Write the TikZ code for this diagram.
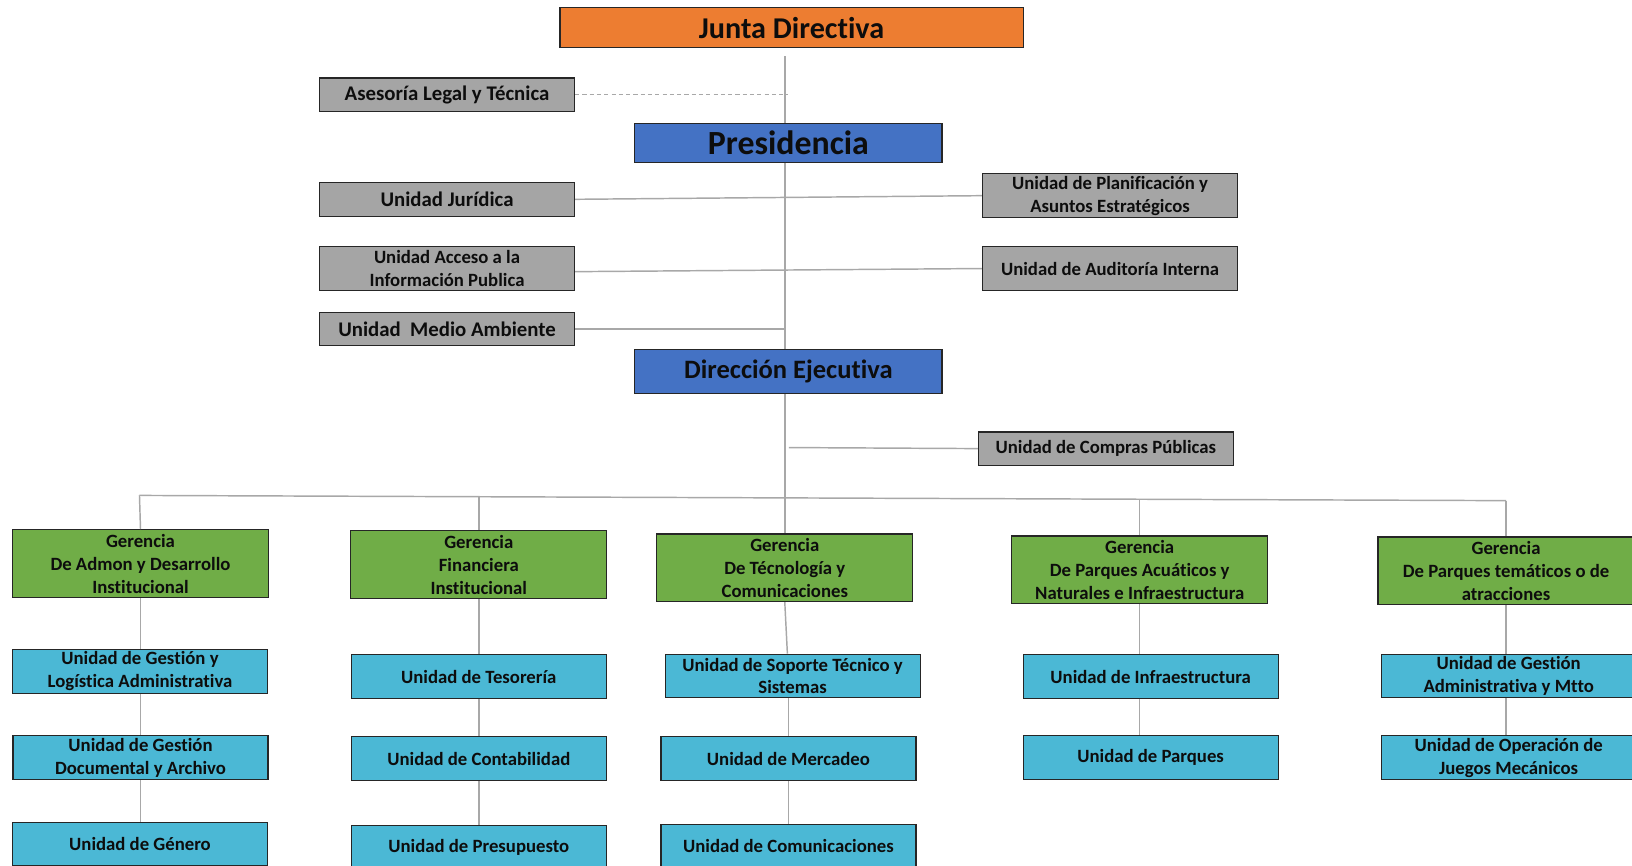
\documentclass[tikz,border=0pt]{standalone}
\usepackage{fontspec}
\setmainfont{Carlito}[Ligatures={NoCommon}]
\definecolor{cOrange}{HTML}{ED7D31}
\definecolor{cBlue}{HTML}{4472C4}
\definecolor{cGray}{HTML}{A5A5A5}
\definecolor{cGreen}{HTML}{70AD47}
\definecolor{cCyan}{HTML}{4BB8D5}
\definecolor{cLine}{HTML}{A8A8A8}
\begin{document}
\begin{tikzpicture}[x=1pt,y=-1pt,
  box/.style={draw=black!85, line width=1.1pt, inner sep=0pt, align=center,
    font=\bfseries\fontsize{18}{22}\selectfont, text=black!95},
  graybox/.style={box, fill=cGray, minimum width=245pt},
  bigtext/.style={font=\bfseries\fontsize{20}{24}\selectfont},
  greenbox/.style={box, fill=cGreen, minimum width=246pt, minimum height=65pt},
  cyanbox/.style={box, fill=cCyan, minimum width=245pt, minimum height=42pt},
  conn/.style={draw=cLine, line width=1.4pt},
  dconn/.style={draw=cLine, line width=1.2pt, dash pattern=on 4pt off 3pt}]
\clip (0,0) rectangle (1568,832);
\fill[white] (0,0) rectangle (1568,832);

% top level
\node[box, fill=cOrange, minimum width=445pt, minimum height=39pt,
  font=\bfseries\fontsize{29}{32}\selectfont] (junta) at (760.5,26.5) {Junta Directiva};
\node[graybox, bigtext, minimum height=32pt] (ase) at (429.5,91) {Asesoría Legal y Técnica};
\node[box, fill=cBlue, minimum width=295pt, minimum height=37pt,
  font=\bfseries\fontsize{32.5}{36}\selectfont] (pres) at (757.5,137.5) {Presidencia};
\node[graybox, bigtext, minimum height=33pt] (jur) at (429.5,191.5) {Unidad Jurídica};
\node[graybox, minimum height=42pt] (plan) at (1066.5,188) {Unidad de Planificación y\\Asuntos Estratégicos};
\node[graybox, minimum height=42pt] (acc) at (429.5,258) {Unidad Acceso a la\\Información Publica};
\node[graybox, minimum height=42pt] (aud) at (1066.5,258) {Unidad de Auditoría Interna};
\node[graybox, bigtext, minimum height=32pt] (med) at (429.5,316) {Unidad~ Medio Ambiente};
\node[box, fill=cBlue, minimum width=295pt, minimum height=42pt,
  font=\bfseries\fontsize{25.5}{29}\selectfont] (dir) at (757.5,357) {Dirección Ejecutiva};
\node[graybox, minimum height=32pt] (comp) at (1062.5,431) {Unidad de Compras Públicas};

% gerencias
\node[greenbox] (g1) at (135,541.5) {Gerencia\\De Admon y Desarrollo\\Institucional};
\node[greenbox] (g2) at (460,542.5) {Gerencia\\Financiera\\Institucional};
\node[greenbox] (g3) at (754,545.5) {Gerencia\\De Técnología y\\Comunicaciones};
\node[greenbox] (g4) at (1095,547.5) {Gerencia\\De Parques Acuáticos y\\Naturales e Infraestructura};
\node[greenbox] (g5) at (1447,548.5) {Gerencia\\De Parques temáticos o de\\atracciones};

% units
\node[cyanbox] (b11) at (134.5,645) {Unidad de Gestión y\\Logística Administrativa};
\node[cyanbox] (b12) at (135,728) {Unidad de Gestión\\Documental y Archivo};
\node[cyanbox] (b13) at (134.5,811) {Unidad de Género};
\node[cyanbox] (b21) at (460,650) {Unidad de Tesorería};
\node[cyanbox] (b22) at (460,729) {Unidad de Contabilidad};
\node[cyanbox] (b23) at (460,814) {Unidad de Presupuesto};
\node[cyanbox] (b31) at (761.5,649.5) {Unidad de Soporte Técnico y\\Sistemas};
\node[cyanbox] (b32) at (757.5,729) {Unidad de Mercadeo};
\node[cyanbox] (b33) at (757.5,813) {Unidad de Comunicaciones};
\node[cyanbox] (b41) at (1105.5,650) {Unidad de Infraestructura};
\node[cyanbox] (b42) at (1105.5,728) {Unidad de Parques};
\node[cyanbox] (b51) at (1449.5,649.5) {Unidad de Gestión\\Administrativa y Mtto};
\node[cyanbox] (b52) at (1449.5,728) {Unidad de Operación de\\Juegos Mecánicos};

% coordinates
\coordinate (j0) at (754,54);
\coordinate (aseend) at (757,91);
\coordinate (compstart) at (758,430);
\coordinate (busL) at (134,476);
\coordinate (busR) at (1447,481);
\coordinate (bus2) at (460,477.2);
\coordinate (bus4) at (1095,479.7);

% connectors
\draw[conn] (j0) -- (j0 |- pres.north);
\draw[dconn] (ase.east) -- (aseend);
\draw[conn] (j0 |- pres.south) -- (j0 |- dir.north);
\draw[conn] (jur.east) -- (plan.west);
\draw[conn] ([yshift=-3pt]acc.east) -- (aud.west);
\draw[conn] (med.east) -- (med.east -| j0);
\draw[conn] (compstart) -- (comp.west);
\draw[conn] (j0 |- dir.south) -- (g3.north);
\draw[conn] (busL) -- (busR);
\draw[conn] (busL) -- (g1.north);
\draw[conn] (bus2) -- (g2.north);
\draw[conn] (bus4) -- (g4.north);
\draw[conn] (busR) -- (g5.north);

\draw[conn] (g1.south) -- (g1.south |- b11.north);
\draw[conn] (g1.south |- b11.south) -- (g1.south |- b12.north);
\draw[conn] (g1.south |- b12.south) -- (g1.south |- b13.north);
\draw[conn] (g2.south) -- (b21.north);
\draw[conn] (b21.south) -- (b22.north);
\draw[conn] (b22.south) -- (b23.north);
\draw[conn] (g3.south) -- ([xshift=-5pt]b31.north);
\draw[conn] (b32.north |- b31.south) -- (b32.north);
\draw[conn] (b32.south) -- (b33.north);
\draw[conn] (g4.south) -- (g4.south |- b41.north);
\draw[conn] (g4.south |- b41.south) -- (g4.south |- b42.north);
\draw[conn] (g5.south) -- (g5.south |- b51.north);
\draw[conn] (g5.south |- b51.south) -- (g5.south |- b52.north);
\end{tikzpicture}
\end{document}
